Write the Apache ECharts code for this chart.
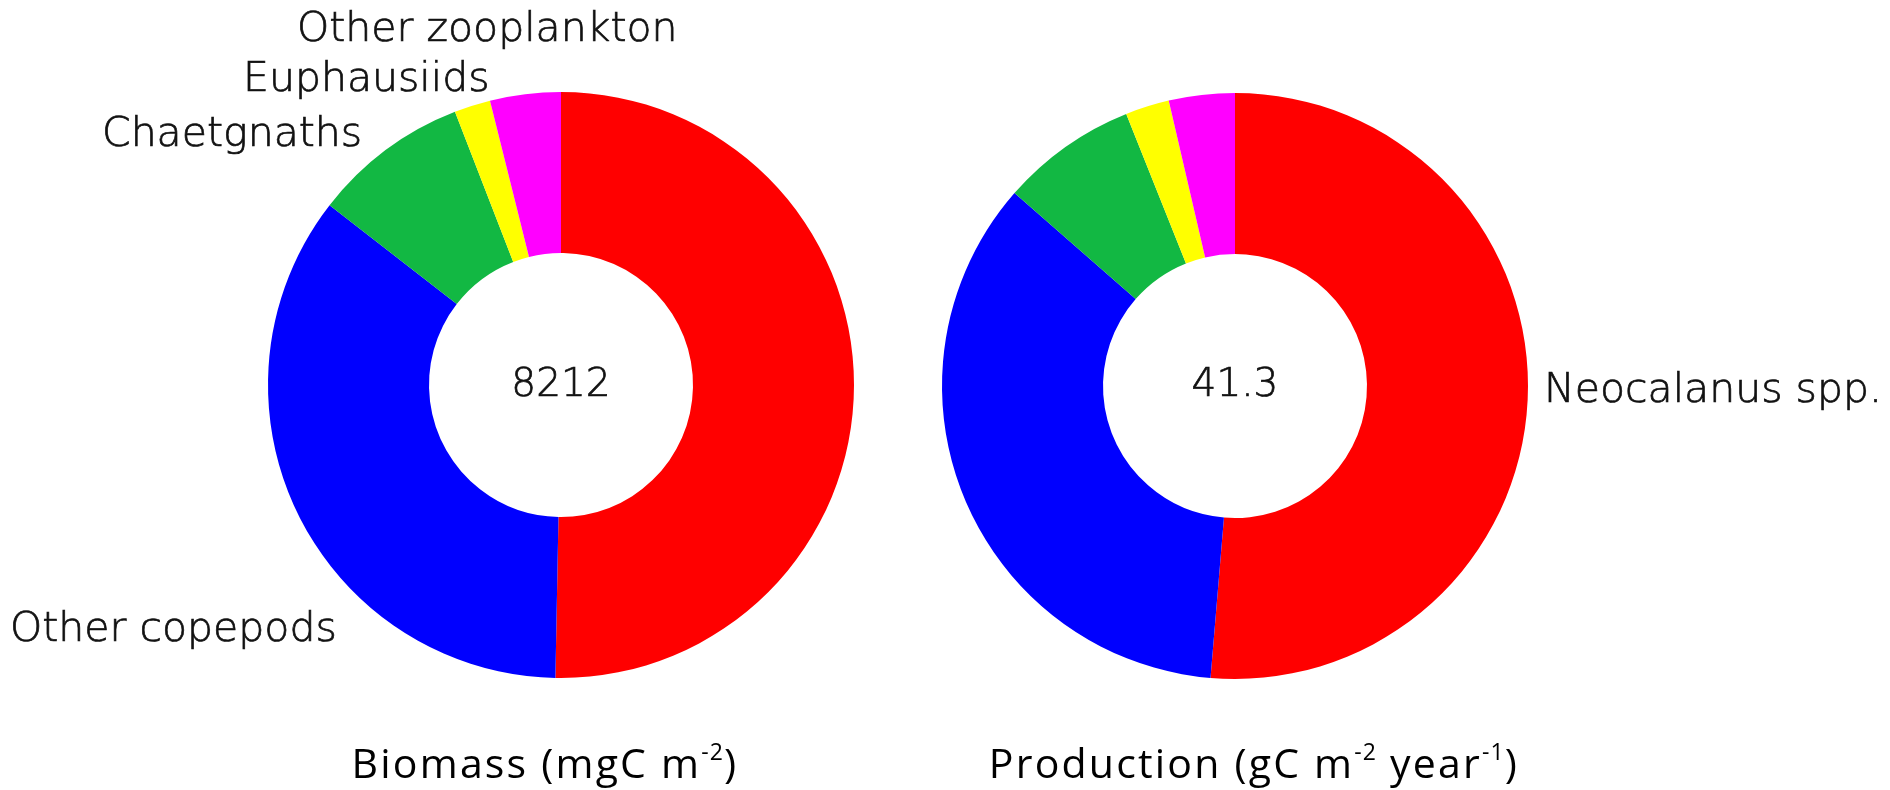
<!DOCTYPE html>
<html>
<head>
<meta charset="utf-8">
<script src="https://cdn.jsdelivr.net/npm/echarts@6/dist/echarts.min.js"></script>
<style>
  html, body { margin: 0; padding: 0; background: #ffffff; }
  #chart { width: 1890px; height: 790px; }
</style>
</head>
<body>
<div id="chart"></div>
<script>
// Zooplankton groups, listed clockwise from 12 o'clock
const groups = ['Neocalanus spp.', 'Other copepods', 'Chaetgnaths', 'Euphausiids', 'Other zooplankton'];
const groupColors = ['#ff0000', '#0000ff', '#12b843', '#ffff00', '#ff00ff'];

// Biomass, mgC m-2
const biomass = [4131, 2891, 706, 164, 320];
// Production, gC m-2 year-1
const production = [21.2, 14.5, 3.1, 1.0, 1.5];

// Panel captions: [text, isSuperscript] pieces
const biomassCaption = [['Biomass (mgC m', false], ['-2', true], [')', false]];
const productionCaption = [['Production (gC m', false], ['-2', true], [' year', false], ['-1', true], [')', false]];

const biomassTotal = biomass.reduce((a, b) => a + b, 0);
const productionTotal = production.reduce((a, b) => a + b, 0);

const labelFont = '"DejaVu Sans"';
const titleFont = '"Open Sans", "Noto Sans", sans-serif';
const textColor = '#111111';

function ring(values, center) {
  return {
    type: 'pie',
    silent: true,
    animation: false,
    startAngle: 90,
    clockwise: true,
    center: center,
    radius: [132, 293],
    label: { show: false },
    labelLine: { show: false },
    itemStyle: { borderWidth: 0 },
    data: values.map((v, i) => ({ name: groups[i], value: v, itemStyle: { color: groupColors[i] } }))
  };
}

function lightText(txt, x, y, size, align) {
  return {
    type: 'text', x: x, y: y, silent: true,
    style: {
      text: txt, fill: textColor,
      stroke: textColor, lineWidth: 0.7,
      font: '200 ' + size + 'px ' + labelFont,
      textAlign: align, textVerticalAlign: 'middle'
    }
  };
}

// Caption text drawn one glyph per rich token so the glyphs can be spaced out a little
function caption(pieces, x, y) {
  let rich = '';
  pieces.forEach(([txt, sup]) => {
    for (const ch of txt) rich += '{' + (sup ? 's' : 'n') + '|' + ch + '}';
  });
  return {
    type: 'text', x: x, y: y, silent: true,
    style: {
      text: rich, textAlign: 'center', textVerticalAlign: 'middle',
      rich: {
        n: { fontFamily: titleFont, fontSize: 41, lineHeight: 48, fill: '#000000', padding: [0, 2.2, 0, 0] },
        s: { fontFamily: titleFont, fontSize: 23, lineHeight: 23, verticalAlign: 'top', fill: '#000000', padding: [0, 1.2, 0, 0] }
      }
    }
  };
}

const chart = echarts.init(document.getElementById('chart'), null, { renderer: 'canvas' });
chart.setOption({
  backgroundColor: '#ffffff',
  animation: false,
  series: [
    ring(biomass, [561, 385]),
    ring(production, [1235, 386])
  ],
  graphic: [
    lightText(groups[4], 297, 30, 41, 'left'),
    lightText(groups[3], 243, 80, 41, 'left'),
    lightText(groups[2], 102, 135, 41, 'left'),
    lightText(groups[1], 10, 630, 41, 'left'),
    lightText(groups[0], 1544, 391, 41, 'left'),
    lightText(String(biomassTotal), 561, 386, 39, 'center'),
    lightText(productionTotal.toFixed(1), 1235, 386, 39, 'center'),
    caption(biomassCaption, 545, 766),
    caption(productionCaption, 1254, 766)
  ]
});
</script>
</body>
</html>
